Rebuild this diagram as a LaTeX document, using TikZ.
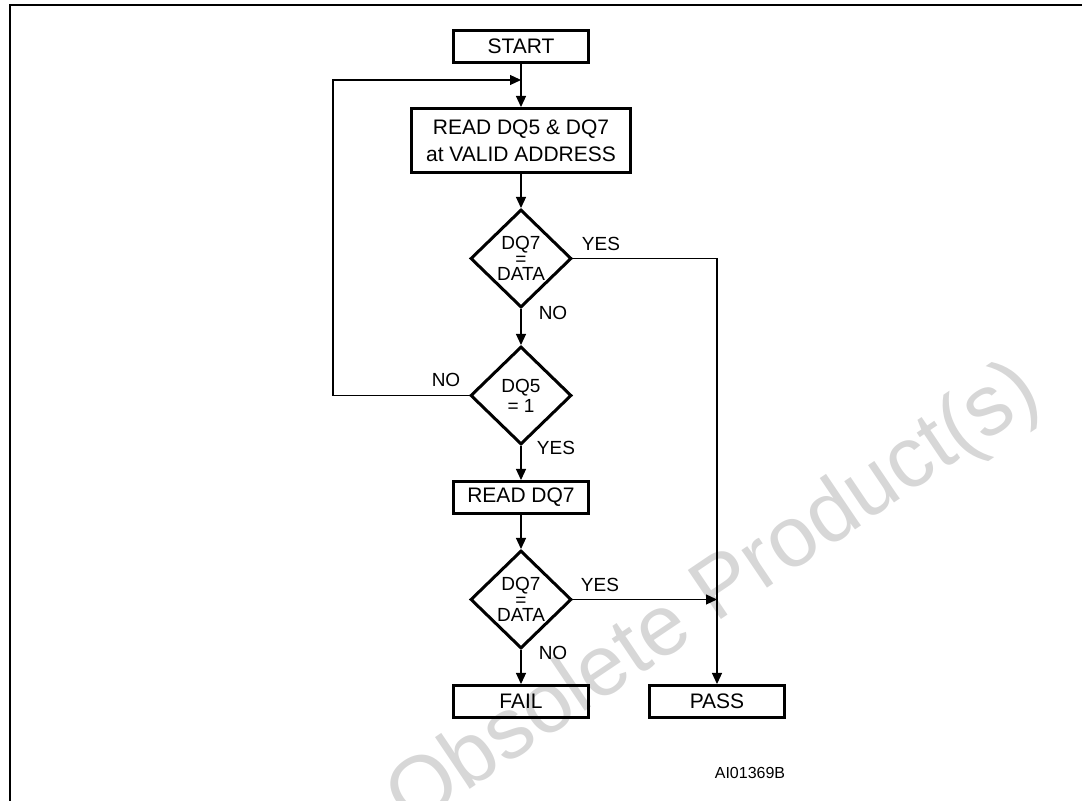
\documentclass[tikz,border=0pt]{standalone}
\usepackage{fontspec}
\setmainfont{Liberation Sans}
\usetikzlibrary{arrows.meta, shapes.geometric, calc}
\definecolor{marcagris}{RGB}{215, 215, 215}

\begin{document}
\begin{tikzpicture}[>={Triangle[length=5.5pt, width=5pt]}, x=0.5pt, y=-0.5pt,
    caja/.style={draw, line width=1.5pt, inner sep=0pt, align=center,
        font=\fontsize{10.5}{13.5}\selectfont},
    rombo/.style={draw, diamond, line width=1.5pt, inner sep=0pt,
        minimum width=50.5pt, minimum height=49pt},
    dentro/.style={align=center, inner sep=0pt},
    etiqueta/.style={font=\fontsize{9.5}{11}\selectfont, inner sep=0pt},
    linea/.style={line width=0.6pt}]

\useasboundingbox (0,0) rectangle (1082,801);

% === Marca de agua ===
\node[anchor=base west, rotate=34, text=marcagris, inner sep=0pt,
    font=\fontsize{43}{50}\selectfont] (marca) at (410,830) {Obsolete Product(s)};

% === Marco ===
\draw[line width=1pt] (10,801) -- (10,5.5) -- (1082,5.5);

% === Cajas ===
\node[caja, minimum width=67.5pt, minimum height=16pt] (start) at (521,46.5) {START};
\node[caja, minimum width=109.5pt, minimum height=32pt] (leer1) at (521,140.5)
    {READ DQ5 \& DQ7\\at VALID ADDRESS};
\node[caja, minimum width=67.5pt, minimum height=16pt] (leer2) at (521,497.5) {READ DQ7};
\node[caja, minimum width=67.5pt, minimum height=16pt] (fail) at (521,701.5) {FAIL};
\node[caja, minimum width=67.5pt, minimum height=16pt] (pass) at (717,701.5) {PASS};

% === Decisiones ===
\node[rombo, label={[dentro, font=\fontsize{9.5}{7.75}\selectfont]center:DQ7\\=\\DATA}]
    (d1) at (521,258.5) {};
\node[rombo, label={[dentro, font=\fontsize{9.5}{10}\selectfont]center:DQ5\\= 1}]
    (d2) at (521,395.5) {};
\node[rombo, label={[dentro, font=\fontsize{9.5}{7.75}\selectfont]center:DQ7\\=\\DATA}]
    (d3) at (521,599.5) {};

% === Etiquetas ===
\node[etiqueta] (si1) at (601,244) {YES};
\node[etiqueta] (no1) at (553,312.5) {NO};
\node[etiqueta] (no2) at (446,380) {NO};
\node[etiqueta] (si2) at (556,448) {YES};
\node[etiqueta] (si3) at (600,584.5) {YES};
\node[etiqueta] (no3) at (553,652.7) {NO};
\node[font=\fontsize{8}{9}\selectfont, inner sep=0pt] (ident) at (750,773) {AI01369B};

% === Conexiones ===
\coordinate (entrada) at (521,80);
\coordinate (union) at (pass.north |- d3.east);
\draw[linea, ->] (start) -- (leer1);
\draw[linea, ->] (d2.west) -- ++(-136,0) |- (entrada);
\draw[linea, ->] (leer1) -- (d1);
\draw[linea, ->] (d1) -- (d2);
\draw[linea, ->] (d2) -- (leer2);
\draw[linea, ->] (leer2) -- (d3);
\draw[linea, ->] (d3) -- (fail);
\draw[linea, ->] (d1.east) -| (pass.north);
\draw[linea, ->] (d3.east) -- (union);

\end{tikzpicture}
\end{document}
